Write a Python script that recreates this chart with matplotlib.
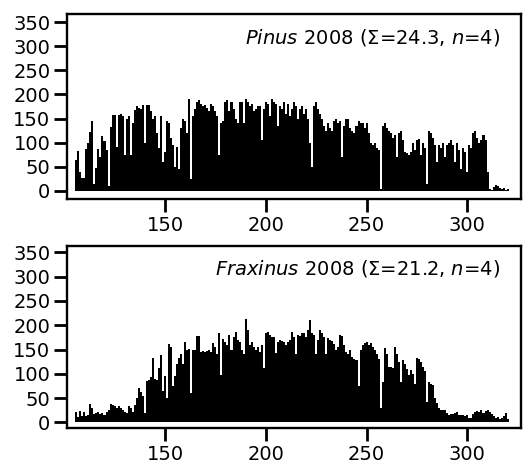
import numpy as np
import matplotlib
matplotlib.use("Agg")
import matplotlib.pyplot as plt

plt.rcParams['font.family'] = ['DejaVu Sans']
plt.rcParams['mathtext.fontset'] = 'dejavusans'

days = np.arange(106, 321)

pinus = [
    65, 83, 40, 26, 26, 88, 100, 123, 145, 15, 47, 88, 71, 113, 103, 85, 10,
    132, 158, 158, 92, 158, 160, 155, 75, 150, 155, 75, 140, 168, 175, 172, 170, 178, 100, 178, 178, 165, 150, 155,
    120, 90, 155, 60, 80, 145, 140, 110, 95, 50, 92, 45, 130, 150, 145, 120, 190,
    25, 155, 170, 185, 188, 180, 175, 178, 172, 165, 180, 175, 165, 155, 75, 140, 145, 185,
    188, 165, 185, 170, 150, 140, 185, 185, 140, 190, 185, 175, 180, 165, 170, 175,
    175, 105, 170, 185, 180, 155, 190, 185, 180, 135, 175, 170, 185, 160,
    180, 155, 170, 185, 175, 150, 170, 175, 160, 170, 150, 100, 50, 175, 185, 170, 160, 150, 135, 125,
    140, 130, 125, 145, 150, 140, 145, 70, 135, 150,
    150, 130, 125, 120, 135, 145, 140, 140, 130, 140,
    120, 100, 95, 100, 90, 85, 5, 135, 140, 130,
    125, 120, 110, 115, 70, 120, 125, 105, 80, 78,
    75, 80, 100, 85, 105, 108, 75, 100, 90, 15,
    125, 120, 110, 95, 60, 95, 90, 100, 70, 95,
    100, 105, 95, 60, 100, 85, 45, 90, 80, 40,
    95, 90, 120, 125, 110, 100, 105, 115, 105, 40,
    5, 3, 8, 12, 10, 6, 4, 7, 3, 5,
]

fraxinus = [
    22, 12, 24, 14, 22, 13, 16, 38, 30, 17, 19, 21, 18, 20, 16, 22, 26, 38, 35, 33, 30,
    33, 30, 26, 22, 20, 33, 30, 22, 35, 50, 70, 62, 55, 20, 86, 88, 94, 132, 90,
    88, 112, 139, 64, 95, 50, 161, 155, 74, 95, 120, 132, 141, 120, 166, 150, 152, 60,
    150, 150, 177, 177, 145, 146, 145, 147, 148, 145, 163, 155, 140, 184, 98, 172,
    165, 160, 180, 150, 175, 187, 170, 165, 150, 140, 213, 190, 160, 165, 155, 150, 155, 145,
    160, 112, 185, 187, 180, 175, 175, 142, 165, 170, 168, 165, 160,
    165, 170, 187, 175, 140, 180, 178, 185, 185, 175, 190, 211, 185, 180, 140, 170, 190, 185, 175, 140,
    173, 170, 168, 162, 150, 155, 180, 178, 160, 145,
    140, 150, 135, 130, 128, 75, 150, 160, 163, 165,
    160, 163, 155, 150, 140, 130, 30, 84, 153, 140,
    115, 115, 112, 156, 140, 125, 84, 129, 120, 110,
    98, 108, 100, 80, 132, 130, 125, 115, 105, 43,
    84, 80, 77, 50, 40, 29, 26, 25, 26, 20,
    16, 17, 18, 20, 22, 16, 15, 16, 14, 16,
    10, 10, 18, 22, 24, 22, 26, 20, 24, 25,
    22, 18, 13, 10, 12, 8, 10, 14, 19, 6,
]

titles = [r"$\mathit{Pinus}$ 2008 (Σ=24.3, $\mathit{n}$=4)",
          r"$\mathit{Fraxinus}$ 2008 (Σ=21.2, $\mathit{n}$=4)"]
series = [pinus, fraxinus]
yticks = [0, 50, 100, 150, 200, 250, 300, 350]
xticks = [150, 200, 250, 300]

W, H = 523, 470
fig = plt.figure(figsize=(W / 100, H / 100), dpi=100)
boxes = [(67, 14, 521, 199), (67, 246, 521, 428)]
ylims = [(-16.6, 366.6), (-11.5, 363)]

for (l, t, r, b), vals, title, yl in zip(boxes, series, titles, ylims):
    ax = fig.add_axes([l / W, 1 - b / H, (r - l) / W, (b - t) / H])
    ax.bar(days[:len(vals)], vals, width=1.0, color='black', linewidth=0)
    ax.set_xlim(101.4, 326.6)
    ax.set_ylim(*yl)
    ax.set_yticks(yticks)
    ax.set_xticks(xticks)
    ax.tick_params(axis='both', direction='out', length=9.5, width=2,
                   labelsize=14, pad=2.5, color='black')
    for s in ax.spines.values():
        s.set_linewidth(1.7)
    ax.text(0.955, 0.842, title, transform=ax.transAxes, ha='right',
            va='baseline', fontsize=14)

fig.savefig("out.png", dpi=100)
